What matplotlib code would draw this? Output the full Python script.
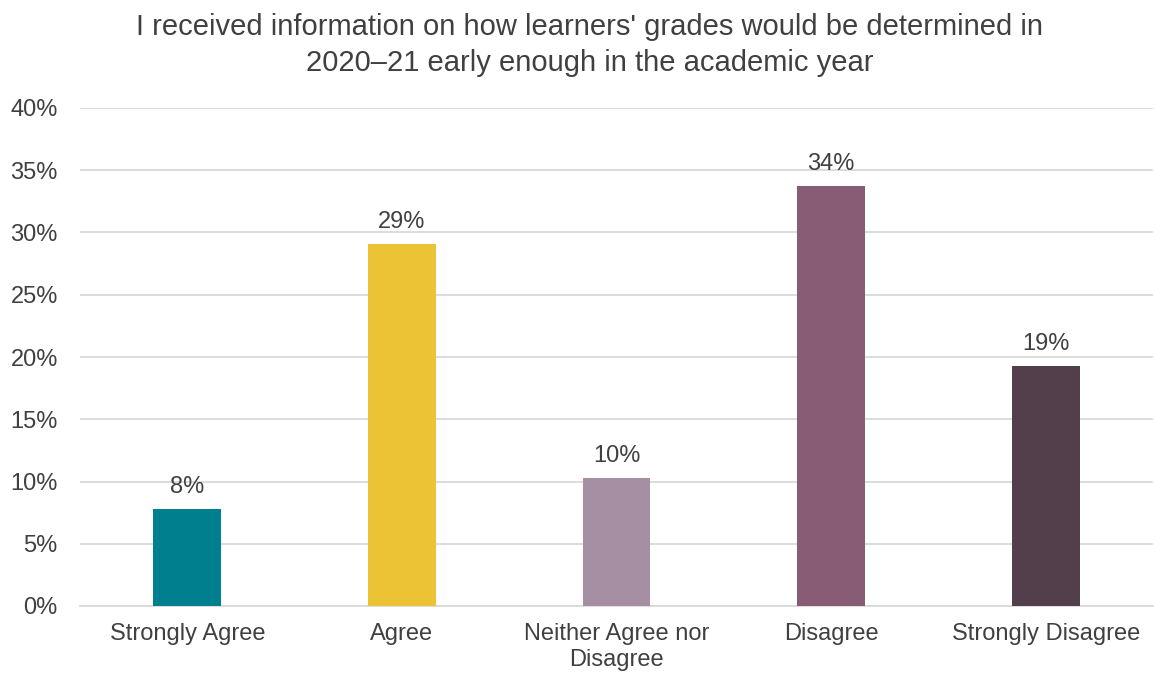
import matplotlib
matplotlib.use('Agg')
from matplotlib import pyplot as plt
from matplotlib.ticker import PercentFormatter

categories = ['Strongly Agree', 'Agree', 'Neither Agree nor\nDisagree',
              'Disagree', 'Strongly Disagree']
values = [7.8, 29.1, 10.3, 33.7, 19.3]
labels = ['8%', '29%', '10%', '34%', '19%']
colors = ['#00808F', '#EBC334', '#A78FA3', '#885C74', '#533F4C']

plt.rcParams['font.family'] = ['Liberation Sans', 'DejaVu Sans']
txt = '#404040'

fig = plt.figure(figsize=(11.55, 6.73), dpi=100)
ax = fig.add_axes([80 / 1155, 67 / 673, 1073 / 1155, 498 / 673])

x = range(len(categories))
bars = ax.bar(x, values, width=0.316, color=colors, zorder=3)
for b, lab in zip(bars, labels):
    ax.annotate(lab, (b.get_x() + b.get_width() / 2, b.get_height()),
                xytext=(0, 8), textcoords='offset points',
                ha='center', va='bottom', fontsize=17, color=txt)

ax.set_xlim(-0.5, 4.5)
ax.set_ylim(0, 40)
ax.set_yticks(range(0, 41, 5))
ax.yaxis.set_major_formatter(PercentFormatter(decimals=0))
ax.set_xticks(list(x))
ax.set_xticklabels(categories, linespacing=1.25)
ax.tick_params(axis='both', length=0, labelsize=17, labelcolor=txt)
ax.tick_params(axis='y', pad=16)
ax.tick_params(axis='x', pad=12)
ax.grid(axis='y', color='#D9D9D9', linewidth=1.3, zorder=0)
for s in ['top', 'right', 'left']:
    ax.spines[s].set_visible(False)
ax.spines['bottom'].set_color('#D9D9D9')
ax.spines['bottom'].set_linewidth(1.3)

fig.suptitle("I received information on how learners' grades would be determined in\n"
             "2020\u201321 early enough in the academic year",
             x=590 / 1155, y=0.98, fontsize=21, color=txt, va='top',
             linespacing=1.35)

fig.savefig('out.png', dpi=100)
